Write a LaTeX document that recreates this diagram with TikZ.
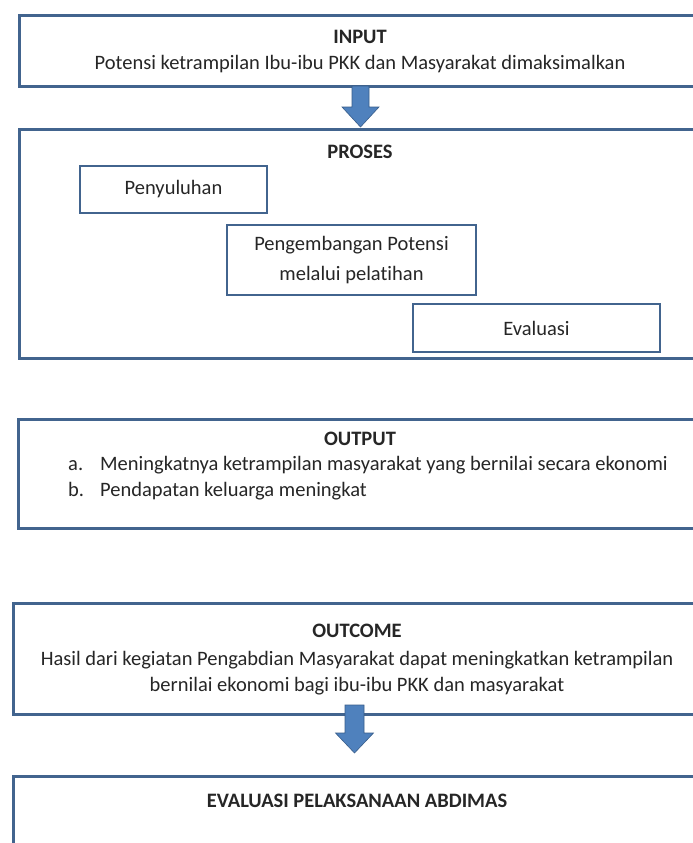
\documentclass[tikz,border=0pt]{standalone}
\usepackage{fontspec}
\setmainfont{Carlito}[Ligatures=NoCommon]
\usetikzlibrary{calc}
\definecolor{frame}{RGB}{66,100,142}
\definecolor{arrfill}{RGB}{79,129,189}
\definecolor{arredge}{RGB}{56,93,138}
\begin{document}
\begin{tikzpicture}[x=1pt,y=-1pt,
  txt/.style={font=\fontsize{20.5}{24}\selectfont, inner sep=0, text=black!85, text height=14, text depth=4},
  ttl/.style={font=\fontsize{20.5}{24}\selectfont\bfseries, inner sep=0, text=black!85, text height=14, text depth=4},
  bigbox/.style={draw=frame, line width=2.6pt, rectangle, inner sep=0, anchor=north west},
  smallbox/.style={draw=frame, line width=2.6pt, rectangle, inner sep=0, align=center,
    font=\fontsize{20.5}{30}\selectfont, text=black!85},
  blockarrow/.style={fill=arrfill, draw=arredge, line width=0.6pt, line join=miter}]
\useasboundingbox (0,0) rectangle (693,843);
\clip (0,0) rectangle (693,843);
\fill[white] (0,0) rectangle (693,843);

% INPUT
\node[bigbox, minimum width=692, minimum height=71] (input) at (18,14) {};
\node[ttl] (inputt) at (360,39) {INPUT};
\node[txt] (inputd) at (360,65) {Potensi ketrampilan Ibu-ibu PKK dan Masyarakat dimaksimalkan};

% PROSES
\node[bigbox, minimum width=692, minimum height=229] (proses) at (18,128) {};
\node[ttl] (prosest) at (360,153) {PROSES};
\node[smallbox, minimum width=187, minimum height=47] (peny) at (173.5,189.5) {Penyuluhan};
\node[smallbox, minimum width=249, minimum height=70] (peng) at (351.5,260) {Pengembangan Potensi\\melalui pelatihan};
\node[smallbox, minimum width=247, minimum height=48] (eval) at (536.5,328) {Evaluasi};

% arrow 1
\coordinate (a1s) at (360.5,86);
\coordinate (a1t) at (360.5,127);
\draw[blockarrow] ($(a1s)+(-8.5,0)$) -- ($(a1s)+(8.5,0)$) -- ($(a1t)+(8.5,-20)$)
  -- ($(a1t)+(18.5,-20)$) -- (a1t) -- ($(a1t)+(-18.5,-20)$) -- ($(a1t)+(-8.5,-20)$) -- cycle;

% OUTPUT
\node[bigbox, minimum width=693, minimum height=109] (output) at (17,418) {};
\node[ttl] (outputt) at (360,440) {OUTPUT};
\node[txt, anchor=west] (oa) at (68,465) {a.};
\node[txt, anchor=west] (oat) at (100,465) {Meningkatnya ketrampilan masyarakat yang bernilai secara ekonomi};
\node[txt, anchor=west] (ob) at (68,491) {b.};
\node[txt, anchor=west] (obt) at (100,491) {Pendapatan keluarga meningkat};

% OUTCOME
\node[bigbox, minimum width=698, minimum height=111] (outcome) at (12,602) {};
\node[ttl] (outcomet) at (357,632) {OUTCOME};
\node[txt] (outcome1) at (357,660) {Hasil dari kegiatan Pengabdian Masyarakat dapat meningkatkan ketrampilan};
\node[txt] (outcome2) at (357,686) {bernilai ekonomi bagi ibu-ibu PKK dan masyarakat};

% arrow 2
\coordinate (a2s) at (354.5,705);
\coordinate (a2t) at (354.5,753);
\draw[blockarrow] ($(a2s)+(-9.5,0)$) -- ($(a2s)+(9.5,0)$) -- ($(a2t)+(9.5,-20)$)
  -- ($(a2t)+(19,-20)$) -- (a2t) -- ($(a2t)+(-19,-20)$) -- ($(a2t)+(-9.5,-20)$) -- cycle;

% EVALUASI
\node[bigbox, minimum width=698, minimum height=100] (evalab) at (12,775) {};
\node[ttl] (evalabt) at (357,802) {EVALUASI PELAKSANAAN ABDIMAS};
\end{tikzpicture}
\end{document}
